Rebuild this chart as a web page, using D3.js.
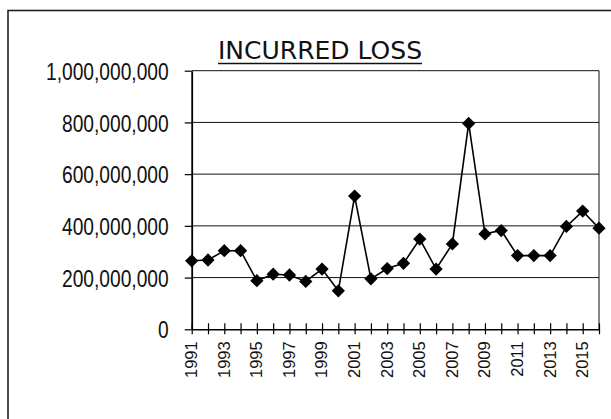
<!DOCTYPE html>
<html>
<head>
<meta charset="utf-8">
<script src="https://cdn.jsdelivr.net/npm/d3@7"></script>
<style>
  html, body { margin: 0; padding: 0; background: #fff; }
  svg { display: block; }
</style>
</head>
<body>
<svg id="chart" width="611" height="419"></svg>
<script>
const years = [1991,1992,1993,1994,1995,1996,1997,1998,1999,2000,2001,2002,2003,2004,2005,2006,2007,2008,2009,2010,2011,2012,2013,2014,2015,2016];
const incurredLoss = [265e6,268e6,304e6,304e6,188e6,213e6,210e6,185e6,233e6,149e6,515e6,195e6,235e6,255e6,349e6,233e6,330e6,796e6,369e6,382e6,285e6,285e6,285e6,398e6,457e6,391e6];
const yTicks = [0,200e6,400e6,600e6,800e6,1000e6];
const xLabelYears = [1991,1993,1995,1997,1999,2001,2003,2005,2007,2009,2011,2013,2015];
const title = "INCURRED LOSS";

(function () {
const svg = d3.select("#chart");
const pLeft = 191.7, pRight = 599, pTop = 70.7, pBottom = 329.3;

// outer frame
svg.append("rect")
  .attr("x", 8).attr("y", 10.5).attr("width", 640).attr("height", 440)
  .attr("fill", "none").attr("stroke", "#222").attr("stroke-width", 1.6);

const x = d3.scalePoint().domain(years).range([pLeft, pRight]);
const y = d3.scaleLinear().domain([0, 1e9]).range([pBottom, pTop]);

// gridlines
svg.append("g").selectAll("line").data(yTicks.filter(d => d > 0)).join("line")
  .attr("x1", pLeft).attr("x2", pRight)
  .attr("y1", d => y(d)).attr("y2", d => y(d))
  .attr("stroke", "#111").attr("stroke-width", 1);

// right border of plot
svg.append("line").attr("x1", pRight).attr("x2", pRight).attr("y1", pTop).attr("y2", pBottom)
  .attr("stroke", "#111").attr("stroke-width", 1);

// y axis
const sx = 0.8;
const yAxis = svg.append("g").attr("transform", `translate(${pLeft},0)`)
  .call(d3.axisLeft(y).tickValues(yTicks).tickFormat(d3.format(",")).tickSizeInner(7).tickSizeOuter(0).tickPadding(16));
yAxis.select(".domain").attr("stroke", "#000").attr("stroke-width", 1.8);
yAxis.selectAll(".tick line").attr("stroke", "#000").attr("stroke-width", 1.2);
yAxis.selectAll(".tick text")
  .attr("font-family", "'Liberation Sans', Arial, sans-serif")
  .attr("font-size", 24).attr("fill", "#111").attr("dy", "0.36em")
  .attr("x", -23 / sx)
  .attr("transform", `scale(${sx},1)`);

// x axis
const xAxis = svg.append("g").attr("transform", `translate(0,${pBottom})`)
  .call(d3.axisBottom(x).tickValues(years)
    .tickFormat(d => xLabelYears.includes(d) ? String(d) : "")
    .tickSizeInner(5).tickSizeOuter(0).tickPadding(12));
xAxis.select(".domain").attr("stroke", "#000").attr("stroke-width", 1.5);
xAxis.selectAll(".tick line").attr("y1", -6).attr("y2", 5).attr("stroke", "#000").attr("stroke-width", 1.2);
xAxis.selectAll(".tick text")
  .attr("font-family", "'Liberation Sans', Arial, sans-serif")
  .attr("font-size", 16.5).attr("fill", "#111")
  .attr("transform", "rotate(-90)")
  .attr("text-anchor", "end")
  .attr("x", -12).attr("y", -1).attr("dy", "0.36em");

// line
const line = d3.line().x((d, i) => x(years[i])).y(d => y(d));
svg.append("path").datum(incurredLoss)
  .attr("d", line).attr("fill", "none").attr("stroke", "#000").attr("stroke-width", 1.6);

// markers
const sym = d3.symbol().type(d3.symbolSquare).size(88);
svg.append("g").selectAll("path").data(incurredLoss).join("path")
  .attr("d", sym)
  .attr("transform", (d, i) => `translate(${x(years[i])},${y(d)}) rotate(45)`)
  .attr("fill", "#000");

// title
const t = svg.append("text")
  .attr("x", 320).attr("y", 58.5)
  .attr("text-anchor", "middle")
  .attr("font-family", "'DejaVu Sans', Verdana, sans-serif")
  .attr("font-size", 25).attr("fill", "#111")
  .text(title);
const bb = t.node().getBBox();
svg.append("line").attr("x1", bb.x).attr("x2", bb.x + bb.width)
  .attr("y1", 63.5).attr("y2", 63.5).attr("stroke", "#111").attr("stroke-width", 1.3);
})();
</script>
</body>
</html>
